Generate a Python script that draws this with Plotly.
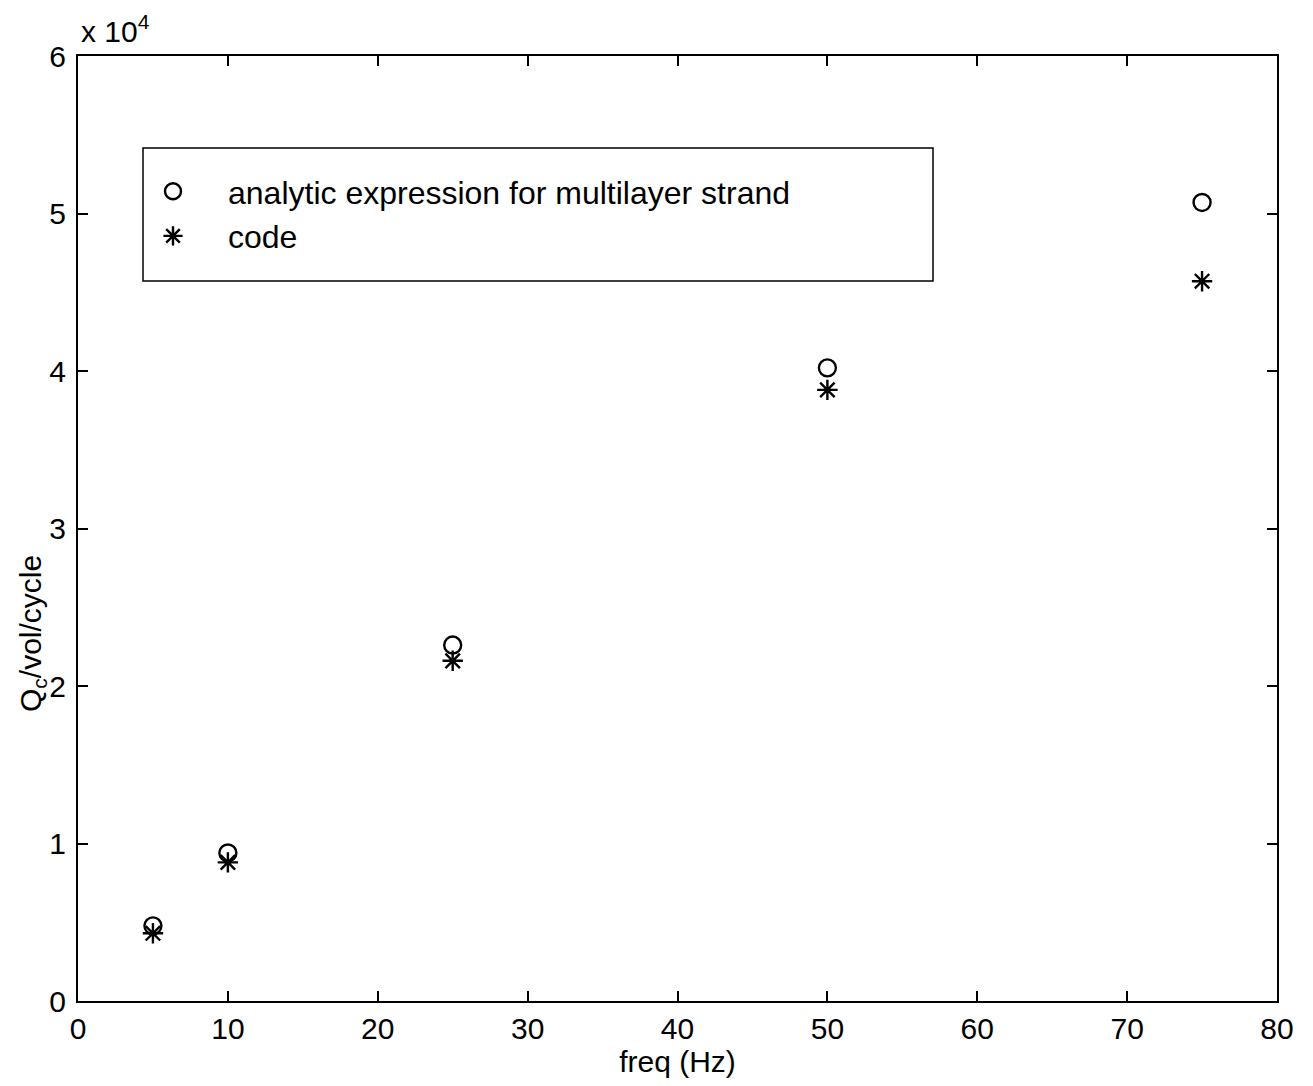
import plotly.graph_objects as go

freq = [5, 10, 25, 50, 75]
analytic = [4770, 9400, 22600, 40200, 50700]
code = [4300, 8800, 21600, 38800, 45700]
x_ticks = [0, 10, 20, 30, 40, 50, 60, 70, 80]
y_ticks = [0, 10000, 20000, 30000, 40000, 50000, 60000]
y_tick_labels = ["0", "1", "2", "3", "4", "5", "6"]

OFF = 8  # page body margin
W, H = 1313 - OFF, 1086 - OFF
# page coordinates of plot area
PL, PR, PT, PB = 78, 1277, 56, 1001
L, T = PL - OFF, PT - OFF
R, B = W - (PR - OFF), H - (PB - OFF)
pw, ph = W - L - R, H - T - B

def px_x(p):
    return (p - OFF - L) / pw

def px_y(p):
    return (H - B - (p - OFF)) / ph

font = "Liberation Sans, Arial, Helvetica, sans-serif"
FS = 30

fig = go.Figure()
fig.add_trace(go.Scatter(
    x=freq, y=analytic, mode="markers",
    name="analytic expression for multilayer strand",
    marker=dict(symbol="circle-open", size=17, color="black", line=dict(width=2.4, color="black")),
))
fig.add_trace(go.Scatter(
    x=freq, y=code, mode="markers", name="code",
    marker=dict(symbol="asterisk-open", size=17, color="black", line=dict(width=2.4, color="black")),
))

axis_common = dict(
    showgrid=False, zeroline=False, showline=True, linecolor="black", linewidth=2,
    mirror="ticks", ticks="inside", ticklen=10, tickwidth=1.8, tickcolor="black",
    tickfont=dict(family=font, size=FS, color="black"),
)
fig.update_xaxes(range=[0, 80], tickvals=x_ticks, ticktext=[str(v) for v in x_ticks],
                 title=dict(text="freq (Hz)", font=dict(family=font, size=FS, color="black"), standoff=0),
                 **axis_common)
fig.update_yaxes(range=[0, 60000], tickvals=y_ticks, ticktext=y_tick_labels, ticklabelstandoff=4,
                 **axis_common)

fig.add_annotation(text="Q<sub>c</sub>/vol/cycle", textangle=-90, xref="paper", yref="paper",
                   x=px_x(32), y=px_y(634), xanchor="center", yanchor="middle", showarrow=False,
                   font=dict(family=font, size=FS, color="black"))
fig.add_annotation(text="x 10<sup>4</sup>", xref="paper", yref="paper",
                   x=px_x(79), y=px_y(50), xanchor="left", yanchor="bottom", showarrow=False,
                   font=dict(family=font, size=FS, color="black"))

fig.add_shape(type="rect", xref="paper", yref="paper",
              x0=px_x(143), x1=px_x(933), y0=px_y(281), y1=px_y(148),
              line=dict(color="black", width=1.5), fillcolor="white", layer="below")

fig.update_layout(
    width=W, height=H, margin=dict(l=L, r=R, t=T, b=B),
    plot_bgcolor="white", paper_bgcolor="white",
    legend=dict(x=px_x(118), y=px_y(164), xanchor="left", yanchor="top",
                bgcolor="rgba(0,0,0,0)", borderwidth=0,
                font=dict(family=font, size=32, color="black"),
                itemsizing="trace", itemwidth=100, tracegroupgap=0),
    showlegend=True,
)

fig.write_html("out.html")
